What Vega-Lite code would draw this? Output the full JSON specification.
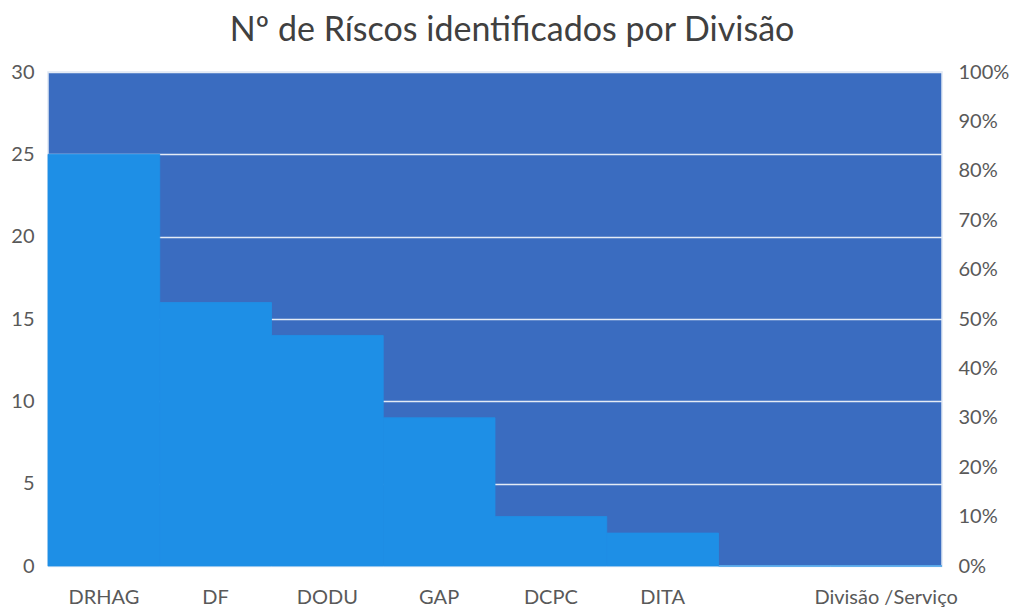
{
  "$schema": "https://vega.github.io/schema/vega-lite/v6.json",
  "width": 894,
  "height": 494,
  "autosize": {"type": "none"},
  "padding": {"left": 48, "top": 72, "right": 74, "bottom": 44},
  "background": "white",
  "title": {
    "text": "Nº de Ríscos identificados por Divisão",
    "font": "Lato",
    "fontSize": 34,
    "fontWeight": "normal",
    "color": "#404040",
    "offset": 14,
    "dx": 17
  },
  "config": {
    "view": {"fill": "#3a6cc0", "stroke": "#dfe7f3", "strokeWidth": 1.5},
    "axis": {"labelFont": "Lato", "labelFontSize": 20, "labelColor": "#595959"}
  },
  "data": {
    "values": [
      {"divisao": "DRHAG", "riscos": 25},
      {"divisao": "DF", "riscos": 16},
      {"divisao": "DODU", "riscos": 14},
      {"divisao": "GAP", "riscos": 9},
      {"divisao": "DCPC", "riscos": 3},
      {"divisao": "DITA", "riscos": 2},
      {"divisao": " ", "riscos": 0},
      {"divisao": "Divisão /Serviço", "riscos": 0}
    ]
  },
  "layer": [
    {
      "mark": {"type": "bar", "color": "#1e8fe6", "stroke": "#1e8fe6", "strokeWidth": 0.8},
      "encoding": {
        "x": {
          "field": "divisao",
          "type": "nominal",
          "sort": null,
          "scale": {"paddingInner": 0, "paddingOuter": 0},
          "axis": {"title": null, "labelAngle": 0, "ticks": false, "domain": false, "labelPadding": 21, "labelFontSize": 20}
        },
        "y": {
          "field": "riscos",
          "type": "quantitative",
          "scale": {"domain": [0, 30], "nice": false},
          "axis": {
            "title": null,
            "values": [0, 5, 10, 15, 20, 25, 30],
            "ticks": false,
            "domain": false,
            "labelPadding": 14,
            "grid": true,
            "gridColor": "#e4ebf5",
            "gridWidth": 1.5
          }
        }
      }
    },
    {
      "mark": {"type": "rule", "opacity": 0},
      "encoding": {
        "y": {
          "datum": 0,
          "type": "quantitative",
          "scale": {"domain": [0, 1], "nice": false},
          "axis": {
            "orient": "right",
            "title": null,
            "format": ".0%",
            "values": [0, 0.1, 0.2, 0.3, 0.4, 0.5, 0.6, 0.7, 0.8, 0.9, 1],
            "ticks": false,
            "domain": false,
            "grid": false,
            "labelPadding": 16
          }
        }
      }
    }
  ],
  "resolve": {"scale": {"y": "independent"}}
}
